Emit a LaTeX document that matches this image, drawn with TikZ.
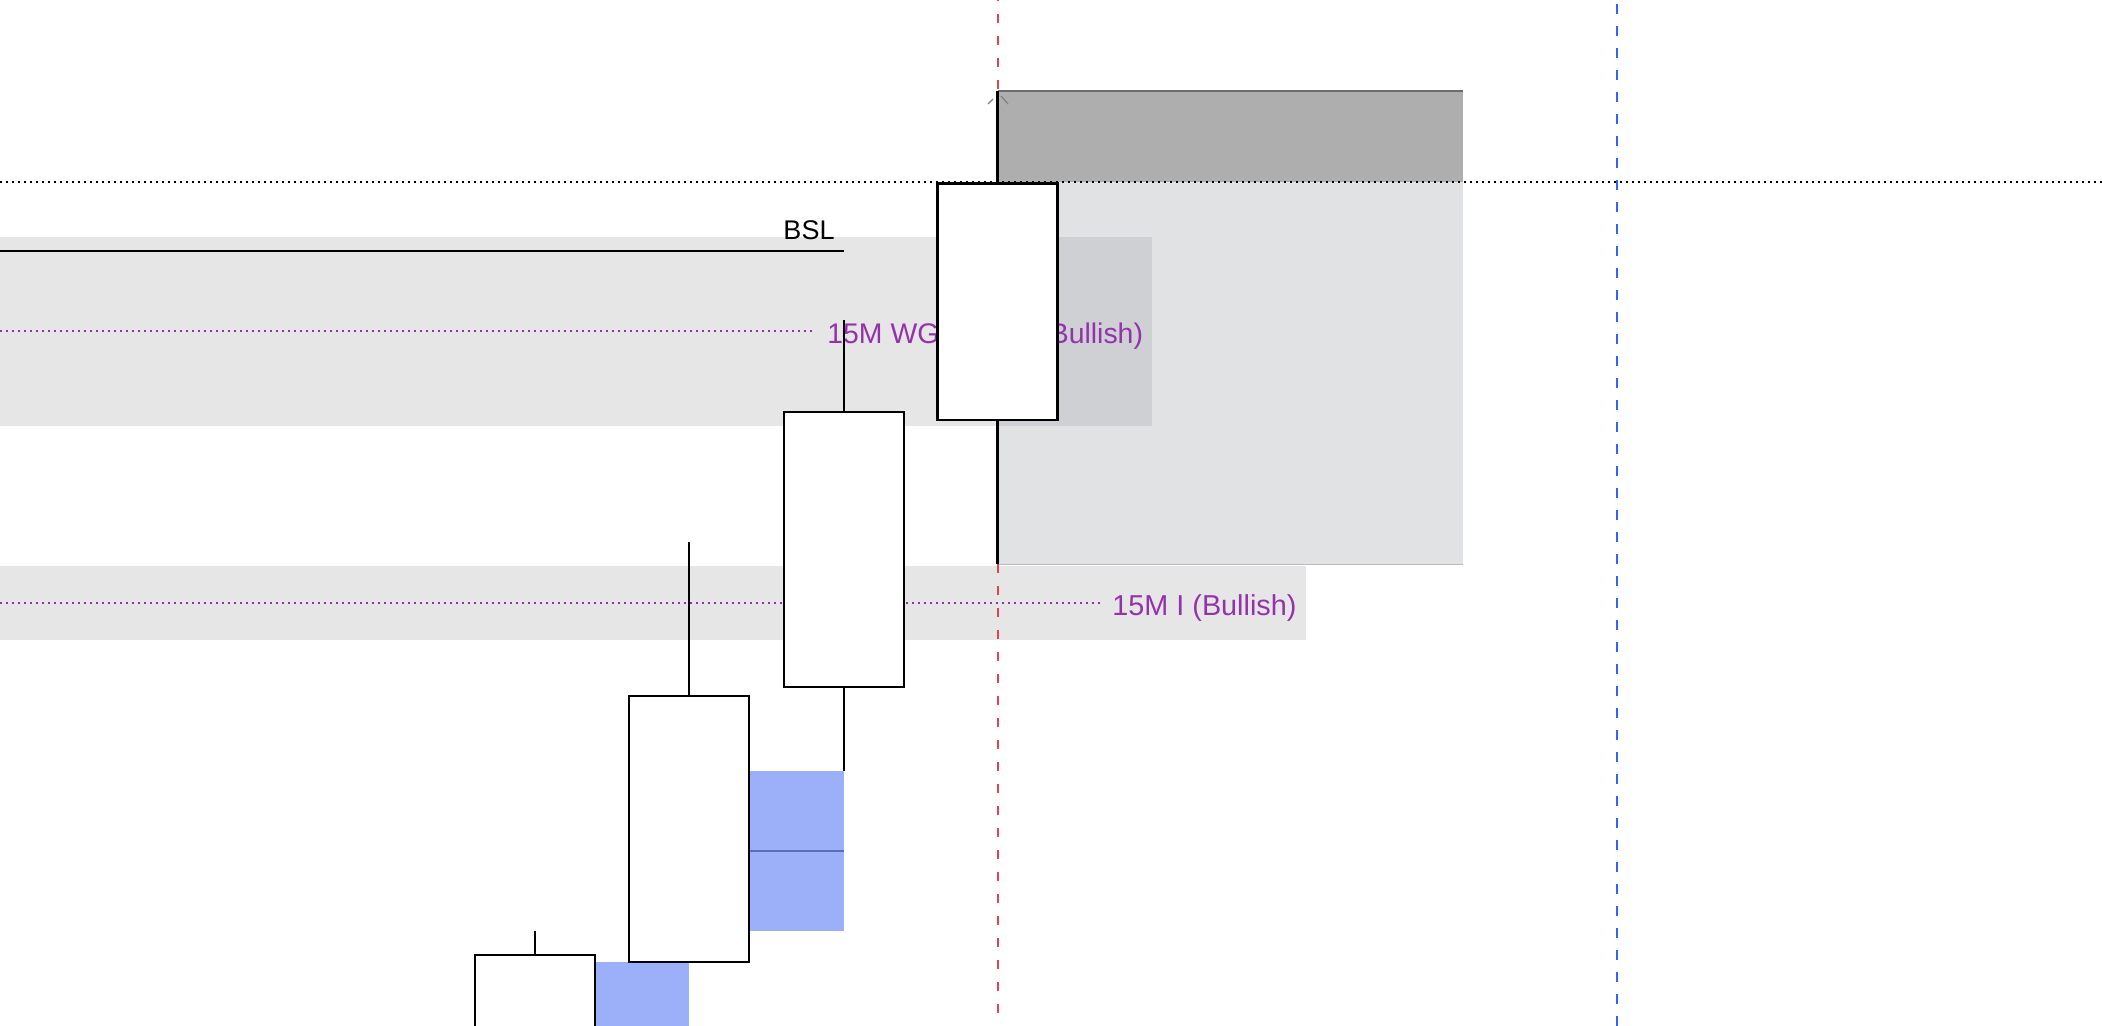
\documentclass[tikz,border=0pt]{standalone}
\usepackage{fontspec}
\setmainfont{Liberation Sans}
\usepackage{tikz}
\usetikzlibrary{calc}

\definecolor{zonegray}{HTML}{E6E6E6}
\definecolor{boxgray}{HTML}{E1E2E4}
\definecolor{mixgray}{HTML}{CFD0D4}
\definecolor{premgray}{HTML}{AEAEAE}
\definecolor{fvgblue}{HTML}{9BB0F9}
\definecolor{fvgmid}{HTML}{5A6DB5}
\definecolor{lblpurple}{HTML}{9432AC}
\definecolor{sessred}{HTML}{E0434F}
\definecolor{sessblue}{HTML}{2F63FA}

\begin{document}
\begin{tikzpicture}[x=0.5pt,y=-0.5pt,
	candle/.style={draw=black,fill=white,line width=1.1pt,minimum width=60pt,inner sep=0pt},
	wick/.style={line width=1.1pt},
	pdots/.style={lblpurple,line width=1pt,dash pattern=on 1pt off 2pt},
	lbl/.style={text=lblpurple,font=\fontsize{14.4}{17}\selectfont,inner xsep=6pt,inner ysep=0pt,anchor=base west}]

\useasboundingbox (0,0) rectangle (2102,1026);
\clip (0,0) rectangle (2102,1026);

% zones
\fill[zonegray] (0,237) rectangle (1151.6,425.7);
\fill[zonegray] (0,566) rectangle (1305.7,640);
\fill[boxgray] (997.5,182.5) rectangle (1462.6,564.4);
\fill[mixgray] (997.5,237) rectangle (1151.6,425.7);
\draw[mixgray!90!black,line width=0.5pt] (997.5,564.4) -- (1462.6,564.4);
\fill[premgray] (997.5,91) rectangle (1462.6,182.5);
\draw[gray!85!black,line width=0.6pt] (997.5,91) -- (1462.6,91);
\draw[gray,line width=0.6pt] (988,104) -- (993,99) (1001,96) -- (1008,104);

% fvg boxes
\fill[fvgblue] (595,962) rectangle (689,1030);
\fill[fvgblue] (749,771) rectangle (844,931);
\draw[fvgmid,line width=0.8pt] (749,851) -- (844,851);

% session lines
\draw[sessred,line width=1pt,dash pattern=on 4.5pt off 6.5pt] (997.5,-8) -- (997.5,1030);
\draw[sessblue,line width=1pt,dash pattern=on 5pt off 6pt] (1617,-18) -- (1617,1030);
\draw[line width=1pt,dash pattern=on 1pt off 2pt] (0,182.5) -- (2102,182.5);

% levels
\coordinate (bslL) at (0,250.7);
\coordinate (bslR) at (844,250.7);
\draw[line width=1.1pt] (bslL) -- (bslR);
\node[font=\fontsize{13.5}{16}\selectfont,anchor=base,inner sep=0pt] (bsl) at (809,240) {BSL};

\coordinate (wgL) at (0,331);
\node[lbl,font=\fontsize{14.2}{17}\selectfont] (wg) at (815,343.3) {15M WG NDOG (Bullish)};
\draw[pdots] (wgL) -- (wgL -| wg.west);

\coordinate (iL) at (0,602.7);
\node[lbl] (ifvg) at (1100,615) {15M I (Bullish)};
\draw[pdots] (iL) -- (iL -| ifvg.west);

% candles
\foreach \nm/\cx/\hi/\op/\cl/\lo in {cA/535/931/955/1100/1100,cB/689/542/695.7/962/962,cC/844/320/412.3/686.7/771,cD/997.5/91/183.5/420/564.4}{
	\pgfmathsetmacro{\hgt}{(\cl-\op)/2}
	\pgfmathsetmacro{\cy}{(\op+\cl)/2}
	\node[candle,minimum height=\hgt pt] (\nm) at (\cx,\cy) {};
	\coordinate (\nm hi) at (\cx,\hi);
	\coordinate (\nm lo) at (\cx,\lo);
	\draw[wick] (\nm.north) -- (\nm hi);
	\draw[wick] (\nm.south) -- (\nm lo);
}
\end{tikzpicture}
\end{document}
